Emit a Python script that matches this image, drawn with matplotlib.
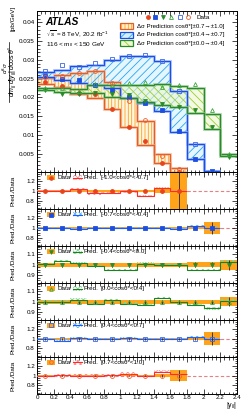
import numpy as np
import matplotlib
matplotlib.use("Agg")
import matplotlib.pyplot as plt
from matplotlib.patches import Rectangle
from matplotlib.lines import Line2D
from matplotlib.ticker import MultipleLocator, FixedLocator, FixedFormatter

plt.rcParams['font.family'] = ['Liberation Sans', 'DejaVu Sans']
plt.rcParams['mathtext.fontset'] = 'custom'
plt.rcParams['mathtext.rm'] = 'Liberation Sans'
plt.rcParams['mathtext.it'] = 'Liberation Sans:italic'
plt.rcParams['mathtext.bf'] = 'Liberation Sans:bold'
plt.rcParams['hatch.linewidth'] = 0.6

# |y_ll| binning
yll_edges = [0.0, 0.2, 0.4, 0.6, 0.8, 1.0, 1.2, 1.4, 1.6, 1.8, 2.0, 2.2, 2.4]
yll_centres = [0.1, 0.3, 0.5, 0.7, 0.9, 1.1, 1.3, 1.5, 1.7, 1.9, 2.1, 2.3]

# cos(theta*) |0.7 -> 1.0|  (9 bins)
pred_p07 = [0.0252, 0.0259, 0.0266, 0.0270, 0.0241, 0.0197, 0.0137, 0.0048, 0.0011]
pred_m07 = [0.0236, 0.0228, 0.0210, 0.0197, 0.0170, 0.0120, 0.0073, 0.0024, 0.0001]
data_p07 = [0.0254, 0.0256, 0.0265, 0.0270, 0.0239, 0.0190, 0.0139, 0.0045, 0.0010]
data_m07 = [0.0241, 0.0231, 0.0212, 0.0208, 0.0170, 0.0121, 0.0083, 0.0024, 0.0002]

# cos(theta*) |0.4 -> 0.7|  (11 bins)
pred_p04 = [0.0268, 0.0274, 0.0284, 0.0286, 0.0299, 0.0310, 0.0310, 0.0297, 0.0217, 0.0077, 0.0005]
pred_m04 = [0.0254, 0.0247, 0.0237, 0.0232, 0.0224, 0.0199, 0.0185, 0.0163, 0.0108, 0.0037, 0.0004]
data_p04 = [0.0270, 0.0287, 0.0281, 0.0292, 0.0302, 0.0309, 0.0312, 0.0297, 0.0218, 0.0076, 0.0005]
data_m04 = [0.0258, 0.0248, 0.0245, 0.0234, 0.0220, 0.0200, 0.0185, 0.0166, 0.0110, 0.0036, 0.0005]

# cos(theta*) |0.0 -> 0.4|  (12 bins)
pred_p00 = [0.0226, 0.0225, 0.0222, 0.0232, 0.0234, 0.0234, 0.0232, 0.0235, 0.0230, 0.0225, 0.0155, 0.0050]
pred_m00 = [0.0219, 0.0215, 0.0211, 0.0212, 0.0200, 0.0197, 0.0188, 0.0179, 0.0173, 0.0159, 0.0115, 0.0043]
data_p00 = [0.0224, 0.0224, 0.0218, 0.0236, 0.0232, 0.0238, 0.0240, 0.0228, 0.0232, 0.0235, 0.0166, 0.0049]
data_m00 = [0.0220, 0.0210, 0.0210, 0.0212, 0.0209, 0.0206, 0.0190, 0.0182, 0.0173, 0.0166, 0.0121, 0.0042]

# Pred./Data ratios, data uncertainty, prediction uncertainty
ratio_m10_m07 = [1.0, 1.0, 1.03, 0.95, 0.96, 0.99, 0.89, 1.06, 1.0]
err_m10_m07 = [0.02, 0.02, 0.02, 0.02, 0.02, 0.02, 0.025, 0.04, 0.5]
punc_m10_m07 = [0.025] * 9

ratio_m07_m04 = [1.0, 0.99, 0.98, 1.0, 0.99, 1.0, 1.0, 0.99, 0.98, 1.03, 1.0]
err_m07_m04 = [0.02, 0.02, 0.02, 0.02, 0.02, 0.02, 0.02, 0.02, 0.02, 0.03, 0.13]
punc_m07_m04 = [0.022] * 11

ratio_m04_00 = [1.005, 1.035, 1.015, 0.99, 0.95, 0.95, 1.01, 1.0, 1.0, 0.95, 0.95, 1.03]
err_m04_00 = [0.02, 0.02, 0.02, 0.02, 0.02, 0.02, 0.02, 0.02, 0.02, 0.025, 0.025, 0.05]
punc_m04_00 = [0.012] * 12

ratio_00_04 = [1.0, 1.0, 1.02, 0.975, 1.015, 0.98, 0.965, 1.035, 0.995, 0.97, 0.935, 1.01]
err_00_04 = [0.018, 0.018, 0.018, 0.018, 0.018, 0.018, 0.018, 0.018, 0.018, 0.02, 0.02, 0.045]
punc_00_04 = [0.012] * 12

ratio_04_07 = [1.0, 0.96, 1.01, 1.0, 1.0, 1.01, 1.0, 1.0, 0.99, 1.03, 1.0]
err_04_07 = [0.02, 0.02, 0.02, 0.02, 0.02, 0.02, 0.02, 0.02, 0.02, 0.03, 0.13]
punc_04_07 = [0.022] * 11

ratio_07_10 = [0.985, 1.01, 1.0, 1.0, 1.01, 1.04, 0.99, 1.08, 1.03]
err_07_10 = [0.02, 0.02, 0.02, 0.02, 0.02, 0.02, 0.02, 0.04, 0.11]
punc_07_10 = [0.025] * 9

RED = '#e8441c'
ORANGE_LINE = '#e0602a'
BLUE = '#1c4fe0'
GREEN = '#2a8a2a'
LGREEN = '#3aa53a'

fig = plt.figure(figsize=(2.49, 4.11), dpi=100)
gs = fig.add_gridspec(7, 1, height_ratios=[161.3] + [36.9] * 6, hspace=0,
                      left=0.1486, right=0.9518, top=0.9732, bottom=0.0414)
ax = fig.add_subplot(gs[0])
rax = [fig.add_subplot(gs[i + 1], sharex=ax) for i in range(6)]


def style(a, fs=4.5):
    a.tick_params(which='both', direction='in', top=True, right=True, labelsize=fs,
                  width=0.5, pad=1.5)
    a.tick_params(which='major', length=3.5)
    a.tick_params(which='minor', length=1.8)
    for s in a.spines.values():
        s.set_linewidth(0.7)


bands = [
    (pred_p07, pred_m07, '#fff0c8', '#ffa020', ORANGE_LINE, '#f6b090', '|||||'),
    (pred_p04, pred_m04, '#d2f0ff', '#2aa6f0', BLUE, '#8fb0ff', '////'),
    (pred_p00, pred_m00, '#eef8d0', '#9ccc30', GREEN, '#90c890', '\\\\\\\\'),
]
for up, lo, face, hcol, lcol, glow, hatch in bands:
    e = yll_edges[:len(up) + 1]
    ax.stairs(up, e, baseline=lo, fill=True, facecolor=face + '99', edgecolor=hcol,
              hatch=hatch, linewidth=0, zorder=1)
    for v in (up, lo):
        ax.stairs(v, e, baseline=None, color=glow, lw=2.2, alpha=0.6, zorder=2)
        ax.stairs(v, e, baseline=None, color=lcol, lw=0.9, zorder=2)

points = [
    (data_m07, 'o', RED, True),
    (data_m04, 's', BLUE, True),
    (data_m00, 'v', GREEN, True),
    (data_p00, '^', LGREEN, False),
    (data_p04, 's', '#3a66e8', False),
    (data_p07, 'o', '#f06030', False),
]
for vals, mk, col, filled in points:
    ax.plot(yll_centres[:len(vals)], vals, ls='none', marker=mk, ms=2.8, color=col,
            mfc=col if filled else 'none', mew=0.6, zorder=4)

ax.set_xlim(0, 2.4)
ax.set_ylim(0, 0.043)
style(ax)
ax.yaxis.set_major_locator(FixedLocator([0.005, 0.01, 0.015, 0.02, 0.025, 0.03, 0.035, 0.04]))
ax.yaxis.set_major_formatter(FixedFormatter(['0.005', '0.01', '0.015', '0.02', '0.025',
                                             '0.03', '0.035', '0.04']))
ax.yaxis.set_minor_locator(MultipleLocator(0.001))
ax.xaxis.set_major_locator(MultipleLocator(0.2))
ax.xaxis.set_minor_locator(MultipleLocator(0.05))
ax.tick_params(labelbottom=False)

# y title drawn as a hand-made fraction
fig.text(0.021, 0.835, r'$d^{3}\sigma$', rotation=90, fontsize=4.6, ha='center', va='center')
fig.add_artist(Line2D([0.038, 0.038], [0.7526, 0.8985], transform=fig.transFigure,
                      color='black', lw=0.5))
fig.text(0.0545, 0.8255, r'$dm_{ll}\,d|y_{ll}|\,d\cos\theta^{*}$', rotation=90,
         fontsize=5.0, ha='center', va='center')
fig.text(0.0535, 0.954, '[pb/GeV]', rotation=90, fontsize=4.6, ha='center', va='center')

ax.text(0.04, 0.932, 'ATLAS', transform=ax.transAxes, fontsize=7.4,
        fontweight='bold', fontstyle='italic', va='center')
ax.text(0.045, 0.862, r'$\sqrt{s}$ = 8 TeV, 20.2 fb$^{-1}$', transform=ax.transAxes,
        fontsize=4.6, va='center')
ax.text(0.045, 0.795, r'116 < m$_{ll}$ < 150 GeV', transform=ax.transAxes,
        fontsize=4.6, va='center')

# hand-made legend
mk_x = [0.553, 0.59, 0.632, 0.67, 0.715, 0.757]
for (vals, mk, col, filled), x in zip(points, mk_x):
    ax.plot([x], [0.961], transform=ax.transAxes, ls='none', marker=mk, ms=2.8,
            color=col, mfc=col if filled else 'none', mew=0.6)
ax.text(0.8, 0.961, 'Data', transform=ax.transAxes, fontsize=4.6, va='center')
leg_labels = ['Δσ Prediction cosθ*[±0.7→±1.0]',
              'Δσ Prediction cosθ*[±0.4→±0.7]',
              'Δσ Prediction cosθ*[±0.0→±0.4]']
for (up, lo, face, hcol, lcol, glow, hatch), lab, y in zip(bands, leg_labels,
                                                           [0.907, 0.854, 0.80]):
    ax.add_patch(Rectangle((0.415, y - 0.019), 0.067, 0.038, transform=ax.transAxes,
                           facecolor=face, edgecolor=hcol, hatch=hatch, lw=0))
    ax.add_patch(Rectangle((0.415, y - 0.019), 0.067, 0.038, transform=ax.transAxes,
                           fill=False, edgecolor=lcol, lw=0.9))
    ax.text(0.5, y, lab, transform=ax.transAxes, fontsize=4.4, va='center')

# ratio panels
panels = [
    (ratio_m10_m07, err_m10_m07, punc_m10_m07, 'o', RED, True, '#ff2a2a', '#ff9090',
     '[-1.0<cosθ*<-0.7]', 'wide'),
    (ratio_m07_m04, err_m07_m04, punc_m07_m04, 's', BLUE, True, '#1a5cff', '#60b8ff',
     '[-0.7<cosθ*<-0.4]', 'wide'),
    (ratio_m04_00, err_m04_00, punc_m04_00, 'v', GREEN, True, '#1f801f', '#80d890',
     '[-0.4<cosθ*<0.0]', 'narrow'),
    (ratio_00_04, err_00_04, punc_00_04, '^', LGREEN, False, '#1f801f', '#80d890',
     '[0.0<cosθ*<0.4]', 'narrow'),
    (ratio_04_07, err_04_07, punc_04_07, 's', '#3a66e8', False, '#1a5cff', '#60b8ff',
     '[0.4<cosθ*<0.7]', 'wide'),
    (ratio_07_10, err_07_10, punc_07_10, 'o', '#f06030', False, '#ff2a2a', '#ff9090',
     '[0.7<cosθ*<1.0]', 'wide'),
]
for a, (rat, err, punc, mk, col, filled, pcol, phcol, lab, kind) in zip(rax, panels):
    n = len(rat)
    x = yll_centres[:n]
    e = yll_edges[:n + 1]
    rat = np.array(rat)
    err = np.array(err)
    punc = np.array(punc)
    a.axhline(1, color='#e88080', ls=(0, (3, 2)), lw=0.8, zorder=1)
    a.bar(x, 2 * err, bottom=1 - err, width=0.2, color='#ffa31a', lw=0, zorder=2)
    a.stairs(rat + punc, e, baseline=rat - punc, fill=True, facecolor='none',
             edgecolor=phcol, hatch='xxxxxx', linewidth=0, zorder=3)
    a.stairs(rat, e, baseline=None, color=pcol, lw=0.8, zorder=3)
    a.errorbar(x, np.ones(n), yerr=err, fmt=mk, ms=2.8, color=col,
               mfc=col if filled else 'none', mew=0.6, ecolor='#222222',
               elinewidth=0.6, capsize=0, zorder=4)
    style(a)
    if kind == 'wide':
        a.set_ylim(0.62, 1.38)
        a.yaxis.set_major_locator(FixedLocator([0.8, 1.0, 1.2]))
        a.yaxis.set_major_formatter(FixedFormatter(['0.8', '1', '1.2']))
        a.yaxis.set_minor_locator(MultipleLocator(0.05))
    else:
        a.set_ylim(0.82, 1.18)
        a.yaxis.set_major_locator(FixedLocator([0.9, 1.0, 1.1]))
        a.yaxis.set_major_formatter(FixedFormatter(['0.9', '1', '1.1']))
        a.yaxis.set_minor_locator(MultipleLocator(0.025))
    a.set_ylabel('Pred./Data', fontsize=4.6)
    a.yaxis.set_label_coords(-0.107, 0.5)
    # panel legend
    a.add_patch(Rectangle((0.0485, 0.79), 0.042, 0.13, transform=a.transAxes,
                          color='#ffa31a', lw=0, zorder=5))
    a.plot([0.0695], [0.855], transform=a.transAxes, ls='none', marker=mk, ms=2.6,
           color=col, mfc=col if filled else 'none', mew=0.6, zorder=6)
    a.text(0.102, 0.855, 'Data', transform=a.transAxes, fontsize=4.5, va='center')
    a.add_patch(Rectangle((0.178, 0.79), 0.045, 0.13, transform=a.transAxes,
                          facecolor='none', edgecolor=phcol, hatch='xxxxxx', lw=0))
    a.plot([0.178, 0.223], [0.855, 0.855], transform=a.transAxes, color=pcol, lw=0.8)
    a.text(0.232, 0.855, 'Pred.', transform=a.transAxes, fontsize=4.5, va='center')
    a.text(0.315, 0.855, lab, transform=a.transAxes, fontsize=4.5, va='center')
    a.tick_params(labelbottom=False)

rax[-1].tick_params(labelbottom=True, pad=1)
rax[-1].xaxis.set_major_locator(FixedLocator(yll_edges))
rax[-1].xaxis.set_major_formatter(FixedFormatter(['0', '0.2', '0.4', '0.6', '0.8', '1', '1.2',
                                                  '1.4', '1.6', '1.8', '2', '2.2', '2.4']))
fig.text(0.952, 0.0, r'|y$_{ll}$|', fontsize=5, ha='right', va='bottom')

fig.savefig('out.png', dpi=100)
